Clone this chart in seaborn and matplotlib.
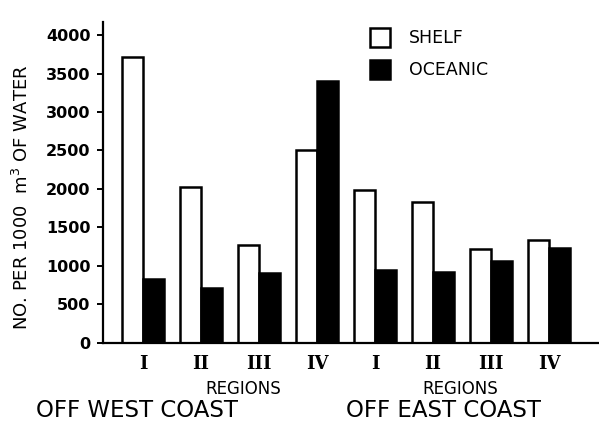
import matplotlib
matplotlib.use("Agg")
import matplotlib.pyplot as plt
import pandas as pd
import seaborn as sns
from matplotlib.patches import Patch

# Dữ liệu
regions = ["I", "II", "III", "IV"]
west_shelf = [3720, 2020, 1265, 2500]
west_oceanic = [825, 715, 905, 3410]
east_shelf = [1990, 1830, 1220, 1340]
east_oceanic = [940, 925, 1060, 1230]
series = ["SHELF", "OCEANIC"]

# Bảng dài cho seaborn
cats = [f"W-{r}" for r in regions] + [f"E-{r}" for r in regions]
shelf = west_shelf + east_shelf
oceanic = west_oceanic + east_oceanic
df = pd.DataFrame({
    "cat": cats * 2,
    "type": [series[0]] * 8 + [series[1]] * 8,
    "value": shelf + oceanic,
})

sns.set_theme(style="ticks")
plt.rcParams["font.family"] = ["DejaVu Sans"]
plt.rcParams["text.color"] = "black"

fig = plt.figure(figsize=(5.99, 4.33), dpi=100)
ax = fig.add_axes([0.172, 0.2085, 0.828, 0.7405])

sns.barplot(data=df, x="cat", y="value", hue="type", order=cats,
            hue_order=series, palette={"SHELF": "white", "OCEANIC": "black"},
            edgecolor="black", linewidth=1.8, width=0.72, ax=ax,
            legend=False)

ax.set_xlim(-0.69, 7.86)
ax.set_ylim(0, 4170)
ax.set_yticks(range(0, 4001, 500))
ax.tick_params(axis="y", direction="out", length=4, width=1.4, pad=5,
               labelsize=11.5, colors="black")
ax.tick_params(axis="x", length=0, pad=9, colors="black")
ax.set_xticks(range(8))
ax.set_xticklabels(regions + regions, fontfamily="DejaVu Serif",
                   fontsize=13, fontweight="bold")
for lab in ax.get_yticklabels():
    lab.set_fontweight("bold")
ax.set_xlabel("")
ax.set_ylabel("")
sns.despine(ax=ax)
for s in ["left", "bottom"]:
    ax.spines[s].set_linewidth(1.6)
    ax.spines[s].set_color("black")

handles = [Patch(facecolor="white", edgecolor="black", linewidth=1.8),
           Patch(facecolor="black", edgecolor="black", linewidth=1.8)]
fig.legend(handles, series, loc="upper left", bbox_to_anchor=(0.592, 0.972),
           frameon=False, fontsize=12.5, handlelength=1.15, handleheight=1.3,
           labelspacing=0.75, handletextpad=1.1, labelcolor="black")

fig.text(0.037, 0.545, "NO. PER 1000  m$^3$ OF WATER", rotation=90,
         ha="center", va="center", fontsize=13)
fig.text(0.406, 0.102, "REGIONS", ha="center", va="center", fontsize=12)
fig.text(0.768, 0.102, "REGIONS", ha="center", va="center", fontsize=12)
fig.text(0.229, 0.053, "OFF WEST COAST", ha="center", va="center", fontsize=16.5)
fig.text(0.740, 0.053, "OFF EAST COAST", ha="center", va="center", fontsize=16.5)

fig.savefig("out.png", dpi=100)
